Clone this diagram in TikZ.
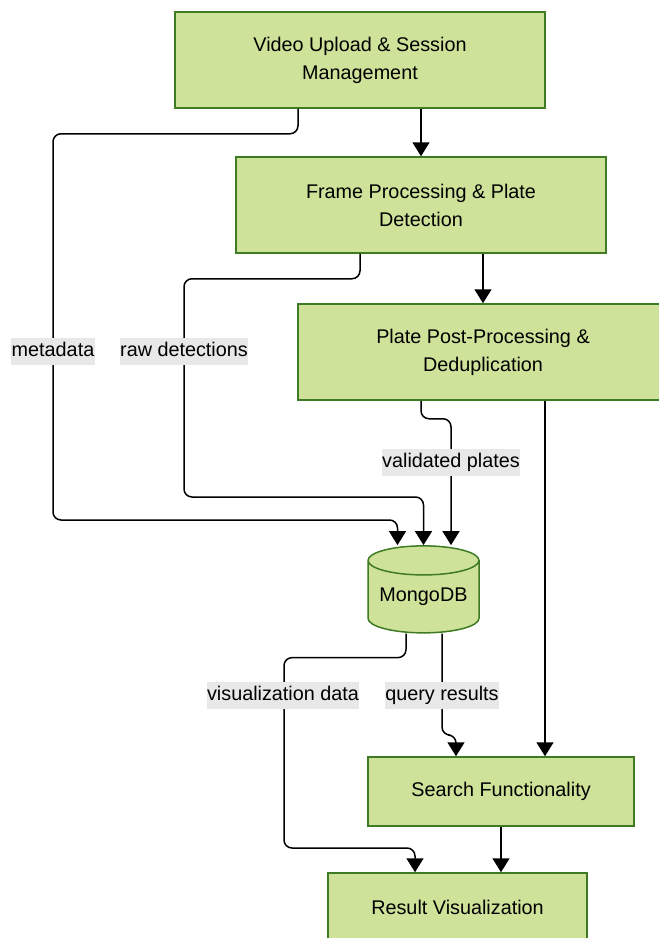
\documentclass[tikz,border=0pt]{standalone}
\usepackage{fontspec}
\setmainfont{Liberation Sans}
\usepackage{tikz}
\usetikzlibrary{calc, shapes.geometric, positioning, arrows.meta}

\definecolor{boxgreen}{HTML}{CFE29A}
\definecolor{edgegreen}{HTML}{3E7B22}
\definecolor{tagGray}{HTML}{E8E8E8}

\tikzset{
  stage/.style={draw=edgegreen, fill=boxgreen, line width=1.5pt, align=center,
    minimum width=370pt, minimum height=96pt, inner sep=0pt,
    font=\fontsize{19.8}{28}\selectfont},
  smallstage/.style={stage, minimum width=266pt, minimum height=69pt},
  store/.style={cylinder, shape border rotate=90, aspect=0.33, draw=edgegreen,
    fill=boxgreen, line width=1.5pt, minimum width=111pt, minimum height=87pt,
    inner sep=0pt, font=\fontsize{19.8}{24}\selectfont},
  link/.style={line width=1.5pt, rounded corners=8pt,
    -{Triangle[width=17pt,length=14pt]}},
  tag/.style={fill=tagGray, inner xsep=0.5pt, inner ysep=0pt, text height=15pt,
    text depth=5pt, minimum height=27pt, font=\fontsize{19.8}{24}\selectfont}
}

\begin{document}
\begin{tikzpicture}[x=1pt, y=-1pt]
\useasboundingbox (0,0) rectangle (659,938);
\clip (0,0) rectangle (659,938);

% stages
\node[stage] (video) at (360,60) {Video Upload \& Session\\Management};
\node[stage] (frame) at (421,205) {Frame Processing \& Plate\\Detection};
\node[stage] (post) at (483,352) {Plate Post-Processing \&\\Deduplication};
\node[store] (db) at (423.5,597) {\raisebox{-5pt}{MongoDB}};
\node[smallstage] (search) at (501,791.5) {Search Functionality};
\node[smallstage, minimum width=259pt] (result) at (457.5,907.5) {Result Visualization};

% main flow
\draw[link] (video.south -| frame.north) -- (frame.north);
\draw[link] (frame.south -| post.north) -- (post.north);
\draw[link] ([xshift=62pt]post.south) -- ([xshift=44pt]search.north);
\draw[link] (search.south) -- (search.south |- result.north);

% into the database
\draw[link] ([xshift=-62pt]video.south) -- ++(0,25) -| (53,520) -| ([xshift=-26pt]db.north);
\draw[link] ([xshift=-61pt]frame.south) -- ++(0,25) -| (184,497) -| (db.north);
\draw[link] ([xshift=-62pt]post.south) -- ++(0,18) -| ([xshift=27.5pt]db.north);

% out of the database
\draw[link] ([xshift=-17.5pt]db.south) -- ++(0,24) -| (284,848) -| ([xshift=-42.5pt]result.north);
\draw[link] ([xshift=18.5pt]db.south) -- (442,735) -| ([xshift=-45pt]search.north);

% labels
\node[tag] (tmeta) at (53,351) {metadata};
\node[tag] (traw) at (184,351) {raw detections};
\node[tag] (tvalid) at (451,462) {validated plates};
\node[tag] (tvis) at (283,695) {visualization data};
\node[tag] (tquery) at (442,695) {query results};
\end{tikzpicture}
\end{document}
